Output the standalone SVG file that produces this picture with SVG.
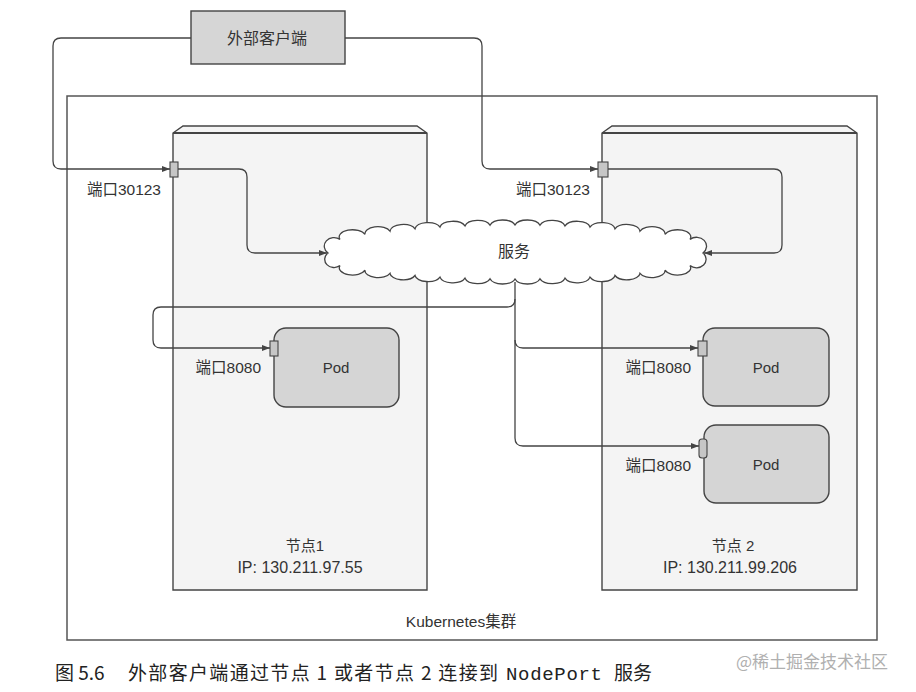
<svg xmlns="http://www.w3.org/2000/svg" width="916" height="692" viewBox="0 0 916 692">
<style>
.ln{fill:none;stroke:#444;stroke-width:1.3}
.box{stroke:#444;stroke-width:1.4}
.node{fill:#f4f4f4;stroke:#444;stroke-width:1.4}
.pod{fill:#d5d5d5;stroke:#444;stroke-width:1.4}
.port{fill:#c6c6c6;stroke:#444;stroke-width:1.1}
.t{font-family:"Liberation Sans","Noto Sans CJK SC",sans-serif;fill:#333}
.c{font-family:"Noto Sans CJK SC","Liberation Sans",sans-serif;fill:#222}
</style>
<defs>
<marker id="ah" markerUnits="userSpaceOnUse" markerWidth="9" markerHeight="7" refX="8" refY="3" orient="auto">
<path d="M0,0 L8,3 L0,6 Z" fill="#444"/>
</marker>
</defs>
<rect width="916" height="692" fill="#fff"/>

<g id="cluster">
<rect x="67" y="96" width="810" height="544" fill="#fff" stroke="#555" stroke-width="1.5"/>
<text class="t" x="461" y="627" font-size="15.5" text-anchor="middle">Kubernetes集群</text>
</g>

<g id="node1">
<path class="node" d="M173,590 V133 L183,126 H417 L427,133 V590 Z"/>
<line x1="173" y1="133" x2="427" y2="133" stroke="#444" stroke-width="1.8"/>
<text class="t" x="305" y="551" font-size="15" text-anchor="middle">节点1</text>
<text class="t" x="300" y="573" font-size="16" text-anchor="middle">IP: 130.211.97.55</text>
</g>

<g id="node2">
<path class="node" d="M602,590 V133 L612,126 H847 L857,133 V590 Z"/>
<line x1="602" y1="133" x2="857" y2="133" stroke="#444" stroke-width="1.8"/>
<text class="t" x="733" y="551" font-size="15" text-anchor="middle">节点 2</text>
<text class="t" x="730" y="573" font-size="16" text-anchor="middle">IP: 130.211.99.206</text>
</g>

<g id="client">
<rect class="box" x="191" y="11" width="154" height="53" fill="#d6d6d6"/>
<text class="t" x="267" y="44" font-size="16" text-anchor="middle">外部客户端</text>
</g>

<g id="connectors">
<path class="ln" marker-end="url(#ah)" d="M191,38 H61 Q53,38 53,46 V161 Q53,169 61,169 H170"/>
<path class="ln" marker-end="url(#ah)" d="M345,38 H474 Q482,38 482,46 V161 Q482,169 490,169 H598"/>
<path class="ln" marker-end="url(#ah)" d="M178,169 H239 Q247,169 247,177 V245 Q247,253 255,253 H327"/>
<path class="ln" marker-end="url(#ah)" d="M608,169 H774 Q782,169 782,177 V245 Q782,253 774,253 H704"/>
<path class="ln" marker-end="url(#ah)" d="M515,282 V299 Q515,307 507,307 H161 Q153,307 153,315 V340 Q153,348 161,348 H270"/>
<path class="ln" marker-end="url(#ah)" d="M515,299 V340 Q515,348 523,348 H698"/>
<path class="ln" marker-end="url(#ah)" d="M515,340 V438 Q515,446 523,446 H699"/>
</g>

<g id="service">
<path fill="#fff" stroke="#444" stroke-width="1.3" d="M340,265.6 A9 8 0 0 1 328,253 A9 8 0 0 1 340,239.4 A13 7 0 0 1 365,234.5 A13 7 0 0 1 390,231.1 A13 7 0 0 1 415,228.8 A13 7 0 0 1 440,227 A13 7 0 0 1 465,225.9 A13 7 0 0 1 490,225.2 A13 7 0 0 1 515,225 A13 7 0 0 1 540,225.2 A13 7 0 0 1 565,225.9 A13 7 0 0 1 590,227 A13 7 0 0 1 615,228.8 A13 7 0 0 1 640,231.1 A13 7 0 0 1 665,234.5 A13 7 0 0 1 690,239.4 A9 8 0 0 1 703,253 A9 8 0 0 1 690,265.6 A13 7 0 0 1 665,270.2 A13 7 0 0 1 640,273.3 A13 7 0 0 1 615,275.5 A13 7 0 0 1 590,277.1 A13 7 0 0 1 565,278.2 A13 7 0 0 1 540,278.8 A13 7 0 0 1 515,279 A13 7 0 0 1 490,278.8 A13 7 0 0 1 465,278.2 A13 7 0 0 1 440,277.1 A13 7 0 0 1 415,275.5 A13 7 0 0 1 390,273.3 A13 7 0 0 1 365,270.2 A13 7 0 0 1 340,265.6 Z"/>
<text class="t" x="514" y="257" font-size="16" text-anchor="middle">服务</text>
</g>

<g id="port-node1">
<rect class="port" x="170" y="162" width="8" height="15"/>
<text class="t" x="161" y="195" font-size="15.5" text-anchor="end">端口30123</text>
</g>
<g id="port-node2">
<rect class="port" x="598" y="162" width="10" height="15"/>
<text class="t" x="590" y="195" font-size="15.5" text-anchor="end">端口30123</text>
</g>

<g id="pod1">
<rect class="pod" x="274" y="328" width="125" height="79" rx="12"/>
<rect class="port" x="270" y="341" width="8" height="15"/>
<text class="t" x="336" y="373" font-size="15" text-anchor="middle">Pod</text>
<text class="t" x="261" y="373" font-size="15.5" text-anchor="end">端口8080</text>
</g>

<g id="pod2">
<rect class="pod" x="703" y="328" width="126" height="78" rx="12"/>
<rect class="port" x="698" y="341" width="9" height="15"/>
<text class="t" x="766" y="373" font-size="15" text-anchor="middle">Pod</text>
<text class="t" x="691" y="373" font-size="15.5" text-anchor="end">端口8080</text>
</g>

<g id="pod3">
<rect class="pod" x="704" y="425" width="125" height="78" rx="12" fill="#d9d9d9"/>
<rect class="port" x="699" y="439" width="8" height="19" rx="3"/>
<text class="t" x="766" y="470" font-size="15" text-anchor="middle">Pod</text>
<text class="t" x="691" y="471" font-size="15.5" text-anchor="end">端口8080</text>
</g>

<g id="caption">
<text class="c" x="55" y="680" font-size="19">图 5.6</text>
<text class="c" x="128" y="680" font-size="19" textLength="370" lengthAdjust="spacing">外部客户端通过节点 1 或者节点 2 连接到</text>
<text x="506" y="680" font-size="19" font-family="'Liberation Mono',monospace" fill="#222" textLength="96" lengthAdjust="spacing">NodePort</text>
<text class="c" x="614" y="680" font-size="19">服务</text>
<text class="c" x="736" y="668" font-size="17" style="fill:#b0b0b0">@稀土掘金技术社区</text>
</g>
</svg>
